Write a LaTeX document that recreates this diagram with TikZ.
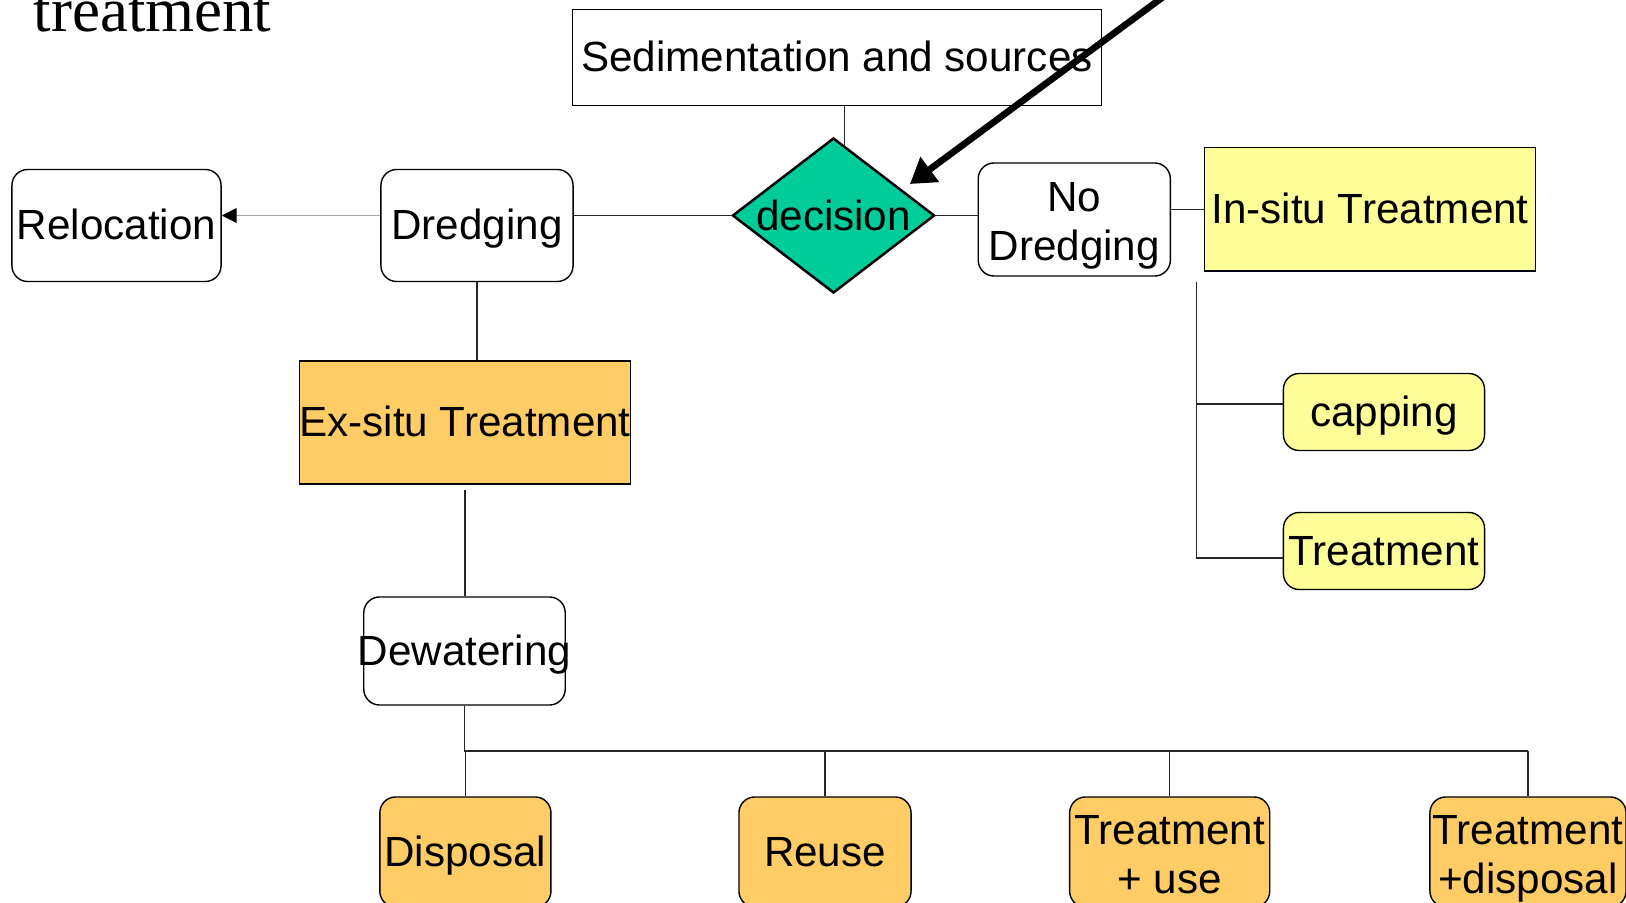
\documentclass[tikz,border=0pt]{standalone}
\usepackage{fontspec}
\setmainfont{Liberation Sans}
\newfontfamily\titulofont{Liberation Serif}
\usetikzlibrary{shapes.geometric,arrows.meta}
\definecolor{amarelo}{HTML}{FFFF99}
\definecolor{laranja}{HTML}{FFCC66}
\definecolor{verde}{HTML}{00CC99}
\begin{document}
\begin{tikzpicture}[x=0.01cm,y=-0.01cm]
\tikzset{
    caixa/.style={rectangle, draw=black, line width=0.4pt, inner sep=0pt, align=center,
                  font=\fontsize{12}{14}\selectfont, text height=0.8em, text depth=0pt},
    redonda/.style={caixa, rounded corners=4.5pt},
    duas/.style={text height=23.6pt},
    decisao/.style={diamond, draw=black, line width=0.7pt, fill=verde, inner sep=0pt,
                    minimum width=2.02cm, minimum height=1.55cm},
    liga/.style={-, line width=0.4pt, black!85},
    seta/.style={-{Triangle[length=4.2pt,width=4.2pt,color=black]}, line width=0.3pt, gray!70},
    grossa/.style={-{Triangle[length=7pt,width=8.5pt]}, line width=1.9pt, black}
}
\useasboundingbox (0,0) rectangle (1626,903);
\clip (0,0) rectangle (1626,903);
\node[anchor=base west, inner sep=0pt, font=\titulofont\fontsize{17.9}{20}\selectfont] (titulo) at (33,31.7) {treatment};
% Topo e decisao
\node[caixa, minimum width=5.29cm, minimum height=0.96cm] (sed) at (837,57.3) {Sedimentation and sources};
\node[decisao, label={[font=\fontsize{12}{14}\selectfont]center:decision}] (dec) at (833.5,215.5) {};
\node[redonda, minimum width=2.09cm, minimum height=1.12cm] (reloc) at (116.5,225.5) {Relocation};
\node[redonda, minimum width=1.92cm, minimum height=1.12cm] (drag)  at (477,225.5)   {Dredging};
\node[redonda, duas, minimum width=1.92cm, minimum height=1.13cm] (nod) at (1074.3,219.5) {No\\Dredging};
% Ramo in-situ
\node[caixa, fill=amarelo, minimum width=3.31cm, minimum height=1.23cm] (ins) at (1370,209.3) {In-situ Treatment};
\node[redonda, fill=amarelo, minimum width=2.01cm, minimum height=0.77cm] (cap) at (1384,412) {capping};
\node[redonda, fill=amarelo, minimum width=2.01cm, minimum height=0.77cm] (trt) at (1384,551) {Treatment};
% Ramo ex-situ
\node[caixa, fill=laranja, inner xsep=-0.01cm, minimum width=3.31cm, minimum height=1.23cm] (exs) at (465,422.5) {Ex-situ Treatment};
\node[redonda, inner xsep=-0.06cm, minimum width=2.01cm, minimum height=1.08cm] (dew) at (464.5,651) {Dewatering};
\node[redonda, fill=laranja, minimum width=1.71cm, minimum height=1.10cm] (disp)   at (465.4,852) {Disposal};
\node[redonda, fill=laranja, minimum width=1.72cm, minimum height=1.10cm] (reuso)  at (825,852)   {Reuse};
\node[redonda, duas, fill=laranja, minimum width=2.00cm, minimum height=1.10cm] (truso)  at (1169.7,852) {Treatment\\+ use};
\node[redonda, duas, fill=laranja, minimum width=1.96cm, minimum height=1.10cm] (trdisp) at (1528,852)  {Treatment\\+disposal};
% Ligacoes
\draw[liga] (dec.81) -- (dec.81 |- sed.south);
\draw[liga] (drag.east |- dec.west) -- (dec.west);
\draw[liga] (dec.east) -- (nod.west |- dec.east);
\draw[liga] (nod.east |- ins.west) -- (ins.west);
\draw[seta] (drag.west |- dec.west) -- (reloc.east |- dec.west);
\draw[liga] (drag.south) -- (drag.south |- exs.north);
\draw[liga] ([yshift=-1.4pt]exs.south) -- (exs.south |- dew.north);
\coordinate (tronco) at (1196.7,281.7);
\draw[liga] (tronco) |- ([yshift=2.3pt]cap.west);
\draw[liga] (tronco) |- ([yshift=-2pt]trt.west);
\coordinate (barra) at (0,751);
\draw[liga] (dew.south) -- (dew.south |- barra) -- (trdisp.north |- barra);
\foreach \n in {disp,reuso,truso,trdisp}
    \draw[liga] (\n.north |- barra) -- (\n.north);
% Seta grossa
\coordinate (origem) at (1209,-37);
\coordinate (alvo) at (910,184);
\draw[grossa] (origem) -- (alvo);
\end{tikzpicture}
\end{document}
